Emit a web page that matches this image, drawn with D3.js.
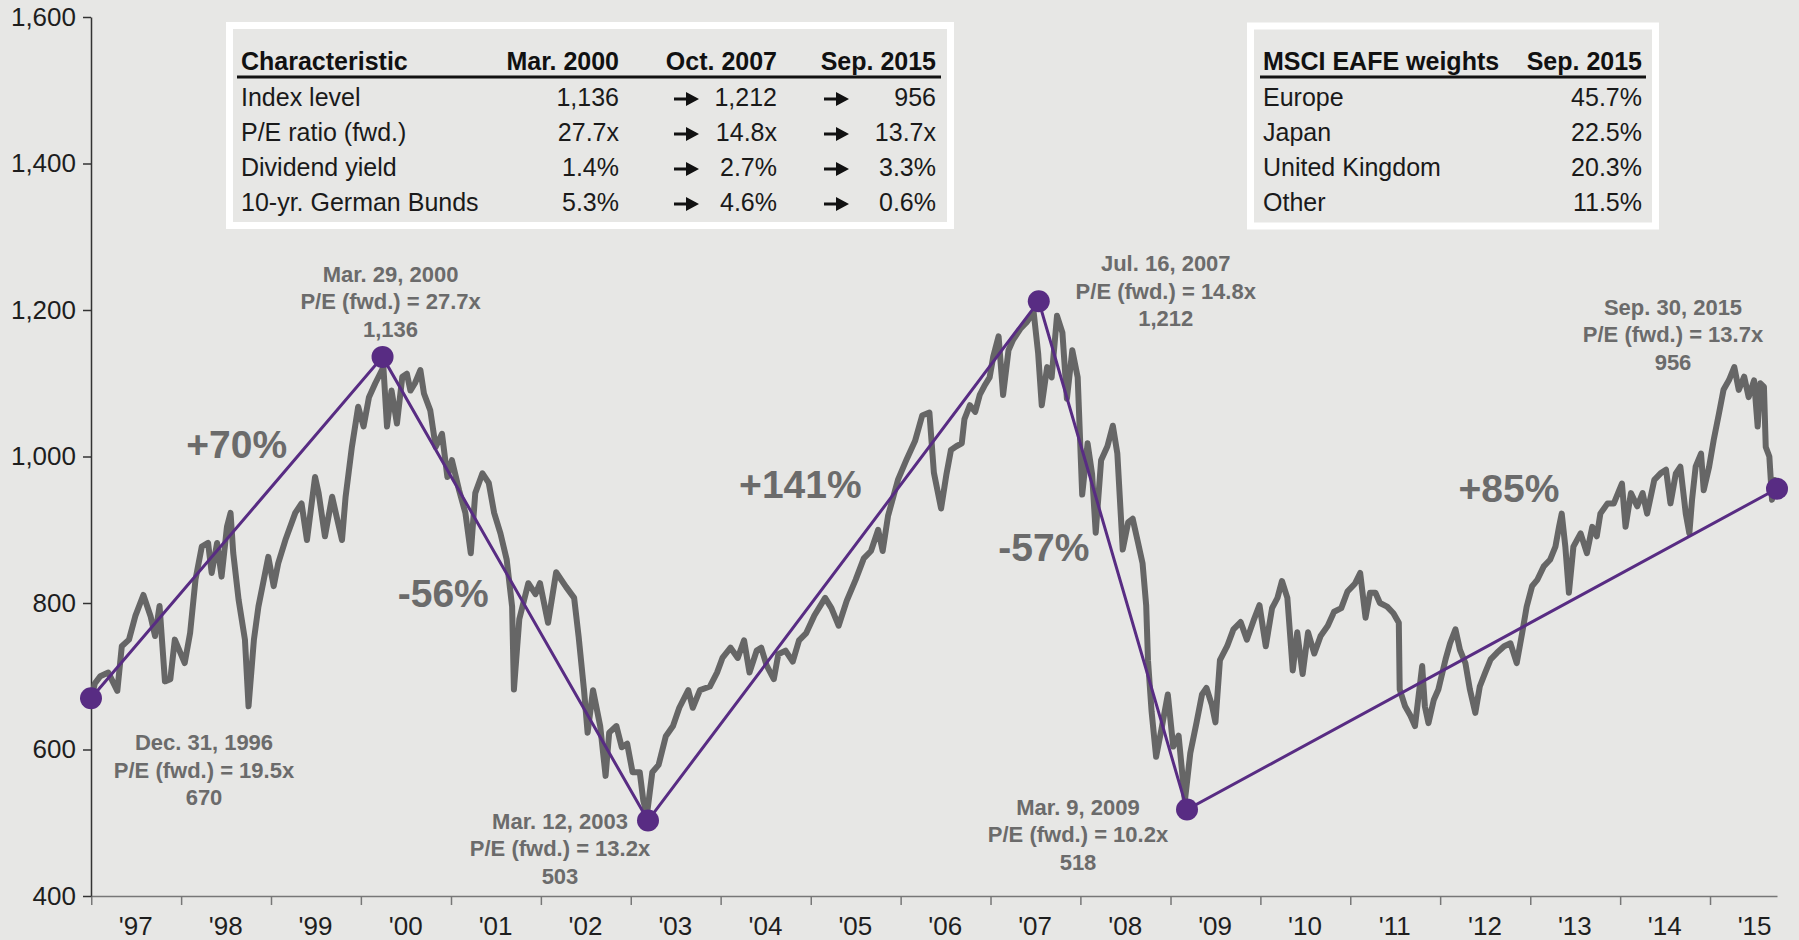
<!DOCTYPE html>
<html>
<head>
<meta charset="utf-8">
<script src="https://cdn.jsdelivr.net/npm/d3@7"></script>
<style>
  html, body { margin: 0; padding: 0; background: #e7e7e5; }
  svg { display: block; font-family: "Liberation Sans", Arial, sans-serif; }
</style>
</head>
<body>
<div id="chart"></div>
<script>
// MSCI EAFE index level (decimal year, level)
const eafe = [
  [1997.00, 670], [1997.04, 690], [1997.10, 700], [1997.19, 705], [1997.29, 680], [1997.34, 741],
  [1997.42, 750], [1997.49, 782], [1997.58, 811], [1997.66, 782], [1997.71, 755], [1997.76, 796],
  [1997.82, 693], [1997.88, 696], [1997.93, 750], [1998.04, 718], [1998.10, 759], [1998.16, 832],
  [1998.23, 877], [1998.30, 882], [1998.34, 841], [1998.40, 882], [1998.45, 836], [1998.51, 904],
  [1998.55, 923], [1998.58, 868], [1998.64, 804], [1998.71, 750], [1998.75, 659], [1998.81, 750],
  [1998.86, 795], [1998.92, 832], [1998.97, 863], [1999.03, 823], [1999.08, 854], [1999.16, 886],
  [1999.27, 923], [1999.34, 936], [1999.40, 886], [1999.49, 972], [1999.53, 950], [1999.60, 891],
  [1999.68, 945], [1999.73, 918], [1999.79, 886], [1999.83, 945], [1999.90, 1013], [1999.97, 1068],
  [2000.03, 1041], [2000.09, 1081], [2000.16, 1100], [2000.25, 1122], [2000.29, 1041], [2000.34, 1090],
  [2000.40, 1045], [2000.46, 1109], [2000.51, 1113], [2000.55, 1090], [2000.60, 1100], [2000.66, 1118],
  [2000.70, 1086], [2000.77, 1063], [2000.83, 1013], [2000.90, 1031], [2000.96, 972], [2001.01, 995],
  [2001.09, 954], [2001.16, 923], [2001.22, 868], [2001.27, 950], [2001.35, 977], [2001.42, 964],
  [2001.48, 923], [2001.55, 895], [2001.62, 859], [2001.68, 795], [2001.70, 682], [2001.76, 778],
  [2001.86, 827], [2001.94, 812], [2001.99, 827], [2002.08, 773], [2002.17, 842], [2002.28, 822],
  [2002.37, 807], [2002.42, 754], [2002.48, 681], [2002.52, 623], [2002.58, 681], [2002.66, 632],
  [2002.72, 564], [2002.76, 623], [2002.84, 632], [2002.90, 603], [2002.96, 608], [2003.02, 569],
  [2003.10, 569], [2003.14, 530], [2003.18, 511], [2003.24, 569], [2003.31, 579], [2003.39, 618],
  [2003.47, 632], [2003.54, 657], [2003.64, 681], [2003.69, 657], [2003.77, 681], [2003.88, 686],
  [2003.96, 705], [2004.02, 725], [2004.11, 739], [2004.19, 725], [2004.26, 749], [2004.32, 705],
  [2004.40, 735], [2004.45, 739], [2004.51, 715], [2004.59, 696], [2004.64, 730], [2004.72, 735],
  [2004.80, 720], [2004.87, 749], [2004.95, 759], [2005.04, 783], [2005.16, 807], [2005.23, 793],
  [2005.31, 769], [2005.40, 803], [2005.50, 832], [2005.59, 861], [2005.67, 871], [2005.75, 900],
  [2005.80, 871], [2005.86, 919], [2005.97, 968], [2006.07, 997], [2006.16, 1021], [2006.24, 1056],
  [2006.32, 1060], [2006.37, 978], [2006.45, 929], [2006.51, 976], [2006.56, 1009], [2006.62, 1014],
  [2006.68, 1018], [2006.71, 1051], [2006.77, 1070], [2006.83, 1061], [2006.88, 1084], [2006.94, 1098],
  [2006.99, 1108], [2007.03, 1136], [2007.09, 1164], [2007.14, 1084], [2007.20, 1145], [2007.25, 1159],
  [2007.33, 1174], [2007.40, 1183], [2007.48, 1197], [2007.53, 1141], [2007.57, 1070], [2007.63, 1122],
  [2007.68, 1108], [2007.74, 1192], [2007.80, 1169], [2007.85, 1079], [2007.91, 1145], [2007.97, 1108],
  [2008.02, 948], [2008.08, 1018], [2008.13, 976], [2008.17, 896], [2008.23, 995], [2008.30, 1014],
  [2008.36, 1042], [2008.41, 1004], [2008.47, 873], [2008.53, 910], [2008.58, 915], [2008.64, 882],
  [2008.69, 854], [2008.73, 797], [2008.75, 722], [2008.79, 652], [2008.84, 590], [2008.90, 628],
  [2008.97, 675], [2009.03, 604], [2009.09, 619], [2009.16, 530], [2009.22, 595], [2009.29, 637],
  [2009.35, 675], [2009.40, 684], [2009.46, 661], [2009.50, 637], [2009.55, 722], [2009.63, 741],
  [2009.70, 764], [2009.78, 774], [2009.85, 750], [2009.93, 778], [2009.99, 797], [2010.06, 741],
  [2010.13, 793], [2010.19, 807], [2010.24, 830], [2010.30, 807], [2010.36, 708], [2010.41, 760],
  [2010.47, 703], [2010.53, 760], [2010.60, 731], [2010.67, 755], [2010.75, 769], [2010.82, 788],
  [2010.90, 793], [2010.97, 816], [2011.05, 826], [2011.11, 841], [2011.17, 780], [2011.22, 814],
  [2011.28, 814], [2011.33, 800], [2011.41, 795], [2011.48, 786], [2011.54, 773], [2011.55, 682],
  [2011.61, 659], [2011.67, 646], [2011.72, 632], [2011.80, 714], [2011.83, 659], [2011.87, 636],
  [2011.93, 668], [2011.98, 682], [2012.06, 723], [2012.11, 745], [2012.17, 764], [2012.22, 736],
  [2012.28, 718], [2012.33, 682], [2012.39, 650], [2012.44, 686], [2012.50, 705], [2012.56, 723],
  [2012.63, 732], [2012.71, 741], [2012.78, 745], [2012.85, 718], [2012.91, 759], [2012.96, 795],
  [2013.02, 823], [2013.08, 832], [2013.15, 850], [2013.22, 859], [2013.28, 877], [2013.32, 904],
  [2013.35, 922], [2013.39, 877], [2013.43, 814], [2013.48, 877], [2013.56, 895], [2013.63, 868],
  [2013.69, 904], [2013.74, 891], [2013.78, 922], [2013.86, 936], [2013.93, 936], [2013.99, 954],
  [2014.02, 963], [2014.06, 904], [2014.12, 950], [2014.19, 932], [2014.25, 950], [2014.30, 922],
  [2014.38, 968], [2014.45, 977], [2014.51, 982], [2014.56, 936], [2014.62, 977], [2014.67, 986],
  [2014.73, 922], [2014.77, 895], [2014.80, 941], [2014.84, 986], [2014.90, 1004], [2014.93, 954],
  [2014.99, 986], [2015.04, 1022], [2015.10, 1059], [2015.15, 1091], [2015.21, 1104], [2015.27, 1122],
  [2015.32, 1091], [2015.38, 1109], [2015.43, 1081], [2015.49, 1104], [2015.53, 1041], [2015.56, 1100],
  [2015.60, 1095], [2015.62, 1013], [2015.66, 1000], [2015.69, 941], [2015.72, 968], [2015.75, 956]
];

// peaks and troughs
const pivotDates = ["1996-12-31", "2000-03-29", "2003-03-12", "2007-07-16", "2009-03-09", "2015-09-30"];
const pivotLabels = ["Dec. 31, 1996", "Mar. 29, 2000", "Mar. 12, 2003", "Jul. 16, 2007", "Mar. 9, 2009", "Sep. 30, 2015"];
const pivotValues = [670, 1136, 503, 1212, 518, 956];
const pivotPE = [19.5, 27.7, 13.2, 14.8, 10.2, 13.7];

const yTicks = [400, 600, 800, 1000, 1200, 1400, 1600];
const yearLabels = ["'97", "'98", "'99", "'00", "'01", "'02", "'03", "'04", "'05", "'06", "'07", "'08", "'09", "'10", "'11", "'12", "'13", "'14", "'15"];

const charHeader = ["Characteristic", "Mar. 2000", "Oct. 2007", "Sep. 2015"];
const charRows = [
  ["Index level", "1,136", "1,212", "956"],
  ["P/E ratio (fwd.)", "27.7x", "14.8x", "13.7x"],
  ["Dividend yield", "1.4%", "2.7%", "3.3%"],
  ["10-yr. German Bunds", "5.3%", "4.6%", "0.6%"]
];
const weightHeader = ["MSCI EAFE weights", "Sep. 2015"];
const weightRows = [
  ["Europe", "45.7%"],
  ["Japan", "22.5%"],
  ["United Kingdom", "20.3%"],
  ["Other", "11.5%"]
];

// layout
const W = 1799, H = 940;
const bg = "#e7e7e5";
const purple = "#582c83";
const grayText = "#6b6b6b";
// label offsets from each dot (first baseline)
const labelOffsets = [[113, 52], [8, -75], [-88, 8], [127, -30], [-109, 5], [-104, -174]];
// % labels offsets from each segment midpoint (baseline)
const pctOffsets = [[0, -70], [-72, 18], [-43, -63], [-69, 6], [27, -147]];

const parse = d3.timeParse("%Y-%m-%d");
function decYear(v) {
  const yr = Math.floor(v);
  const a = new Date(yr, 0, 1), b = new Date(yr + 1, 0, 1);
  return new Date(+a + (v - yr) * (b - a));
}

const svg = d3.select("#chart").append("svg")
  .attr("width", W)
  .attr("height", H);

svg.append("rect").attr("width", W).attr("height", H).attr("fill", bg);

const x = d3.scaleTime()
  .domain([parse(pivotDates[0]), parse(pivotDates[pivotDates.length - 1])])
  .range([91, 1777]);
const y = d3.scaleLinear().domain([400, 1600]).range([896, 17]);

// x axis
const years = d3.timeYear.range(new Date(1997, 0, 1), new Date(2015, 1, 1));
const xAxis = svg.append("g")
  .attr("transform", `translate(0,${y(400)})`)
  .call(d3.axisBottom(x).tickValues(years).tickSize(9).tickSizeOuter(0).tickFormat(""));
xAxis.select(".domain").attr("stroke", "#777").attr("stroke-width", 1.5);
xAxis.selectAll(".tick line").attr("stroke", "#777").attr("stroke-width", 1.5);

svg.append("g").selectAll("text")
  .data(yearLabels)
  .enter().append("text")
  .attr("x", (d, i) => x(new Date(1997 + i, 6, 1)))
  .attr("y", 935)
  .attr("text-anchor", "middle")
  .attr("font-size", 26)
  .attr("fill", "#1e1e1e")
  .text(d => d);

// y axis
const yAxis = svg.append("g")
  .attr("transform", `translate(${x.range()[0]},0)`)
  .call(d3.axisLeft(y).tickValues(yTicks).tickSize(8).tickSizeOuter(0).tickPadding(7).tickFormat(d3.format(",")));
yAxis.select(".domain").attr("stroke", "#333").attr("stroke-width", 1.5);
yAxis.selectAll(".tick line").attr("stroke", "#333").attr("stroke-width", 1.5);
yAxis.selectAll(".tick text")
  .attr("font-size", 26)
  .attr("font-family", "Liberation Sans, Arial, sans-serif")
  .attr("fill", "#1e1e1e");

// index line
const line = d3.line()
  .x(d => x(decYear(d[0])))
  .y(d => y(d[1]));

svg.append("path")
  .datum(eafe)
  .attr("fill", "none")
  .attr("stroke", "#666")
  .attr("stroke-width", 6)
  .attr("stroke-linejoin", "round")
  .attr("d", line);

// pivots
const pivots = pivotDates.map((d, i) => ({
  date: parse(d), value: pivotValues[i], label: pivotLabels[i], pe: pivotPE[i]
}));

svg.append("path")
  .datum(pivots)
  .attr("fill", "none")
  .attr("stroke", purple)
  .attr("stroke-width", 3)
  .attr("d", d3.line().x(d => x(d.date)).y(d => y(d.value)));

svg.append("g").selectAll("circle")
  .data(pivots)
  .enter().append("circle")
  .attr("cx", d => x(d.date))
  .attr("cy", d => y(d.value))
  .attr("r", 11)
  .attr("fill", purple);

// dot labels
const lbl = svg.append("g").selectAll("text")
  .data(pivots)
  .enter().append("text")
  .attr("text-anchor", "middle")
  .attr("font-size", 22)
  .attr("font-weight", "bold")
  .attr("fill", grayText);

lbl.each(function(d, i) {
  const t = d3.select(this);
  const cx = x(d.date) + labelOffsets[i][0];
  const cy = y(d.value) + labelOffsets[i][1];
  const lines = [d.label, `P/E (fwd.) = ${d.pe.toFixed(1)}x`, d3.format(",")(d.value)];
  lines.forEach((s, k) => {
    t.append("tspan").attr("x", cx).attr("y", cy + k * 27.5).text(s);
  });
});

// % change labels
const pct = d3.pairs(pivots).map(([a, b], i) => {
  const ch = b.value / a.value - 1;
  return {
    text: (ch > 0 ? "+" : "-") + Math.round(Math.abs(ch) * 100) + "%",
    x: (x(a.date) + x(b.date)) / 2 + pctOffsets[i][0],
    y: (y(a.value) + y(b.value)) / 2 + pctOffsets[i][1]
  };
});

svg.append("g").selectAll("text")
  .data(pct)
  .enter().append("text")
  .attr("x", d => d.x)
  .attr("y", d => d.y)
  .attr("text-anchor", "middle")
  .attr("font-size", 39)
  .attr("font-weight", "bold")
  .attr("fill", grayText)
  .text(d => d.text);

// tables
const arrowPath = "M-12,-1.6 H0 V-7 L13,0 L0,7 V1.6 H-12 Z";
const headY = 70, rowY0 = 106, rowStep = 35, fs = 25;

function table(box, header, rows, cols, line, arrows) {
  const g = svg.append("g");
  g.append("rect")
    .attr("x", box[0]).attr("y", box[1])
    .attr("width", box[2]).attr("height", box[3])
    .attr("fill", bg)
    .attr("stroke", "#fff")
    .attr("stroke-width", 7);

  g.selectAll("text.h")
    .data(header)
    .enter().append("text")
    .attr("class", "h")
    .attr("x", (d, i) => cols[i])
    .attr("y", headY)
    .attr("text-anchor", (d, i) => i === 0 ? "start" : "end")
    .attr("font-size", fs)
    .attr("font-weight", "bold")
    .attr("fill", "#111")
    .text(d => d);

  g.append("line")
    .attr("x1", line[0]).attr("x2", line[1])
    .attr("y1", 77).attr("y2", 77)
    .attr("stroke", "#111")
    .attr("stroke-width", 3);

  rows.forEach((r, ri) => {
    const by = rowY0 + ri * rowStep;
    g.selectAll(null)
      .data(r)
      .enter().append("text")
      .attr("x", (d, i) => cols[i])
      .attr("y", by)
      .attr("text-anchor", (d, i) => i === 0 ? "start" : "end")
      .attr("font-size", fs)
      .attr("fill", "#1a1a1a")
      .text(d => d);
    arrows.forEach(ax => {
      g.append("path")
        .attr("d", arrowPath)
        .attr("transform", `translate(${ax},${by - 7})`)
        .attr("fill", "#111");
    });
  });
}

table([229.5, 25.5, 721, 200], charHeader, charRows, [241, 619, 777, 936], [237, 941], [686, 836]);
table([1250.5, 26, 405, 200], weightHeader, weightRows, [1263, 1642], [1260, 1646], []);
</script>
</body>
</html>
